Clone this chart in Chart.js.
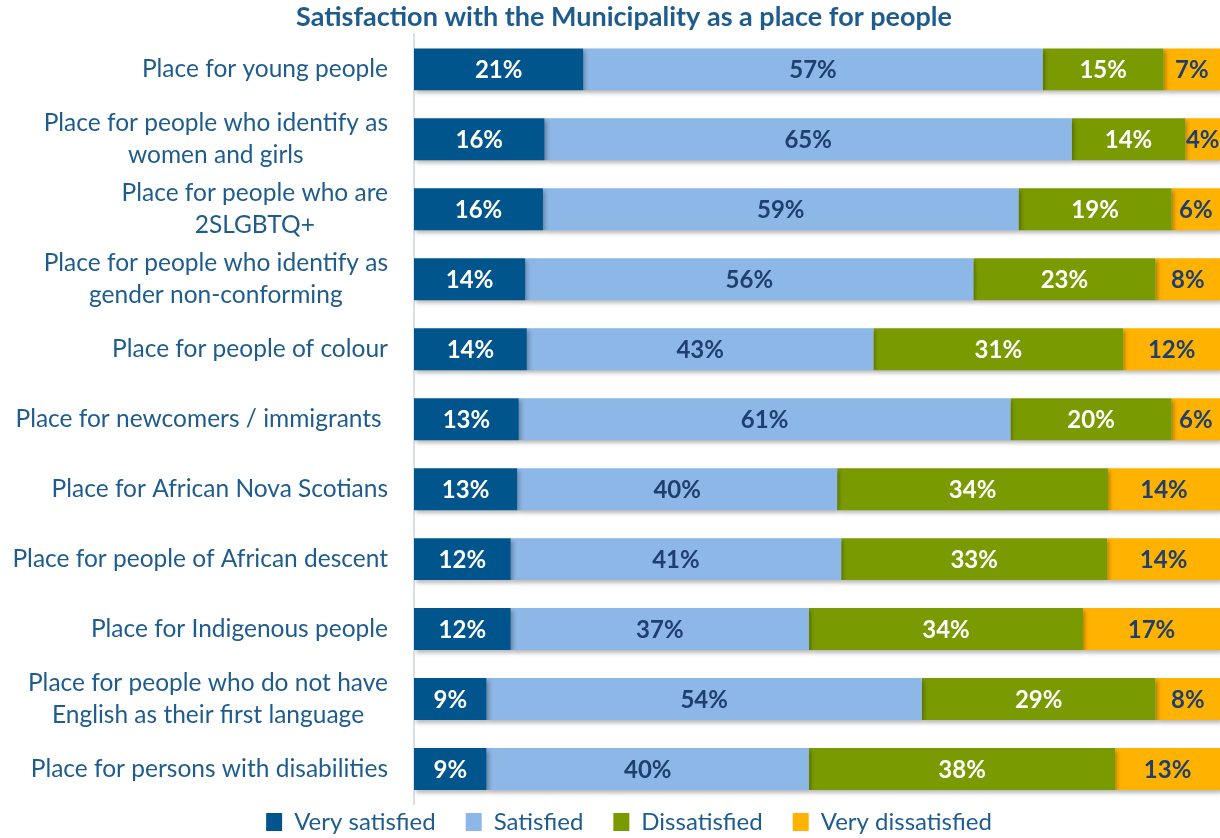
<!DOCTYPE html>
<html>
<head>
<meta charset="utf-8">
<script src="https://cdn.jsdelivr.net/npm/chart.js@4.4.1/dist/chart.umd.min.js"></script>
<style>
  html, body { margin: 0; padding: 0; background: #fff; }
  #wrap { width: 1220px; height: 838px; }
</style>
</head>
<body>
<div id="wrap"><canvas id="satisfactionChart"></canvas></div>
<script>
const categories = [
  ["Place for young people"],
  ["Place for people who identify as", "women and girls"],
  ["Place for people who are", "2SLGBTQ+"],
  ["Place for people who identify as", "gender non-conforming"],
  ["Place for people of colour"],
  ["Place for newcomers / immigrants "],
  ["Place for African Nova Scotians"],
  ["Place for people of African descent"],
  ["Place for Indigenous people"],
  ["Place for people who do not have", "English as their first language"],
  ["Place for persons with disabilities"]
];

const verySatisfied    = [21, 16.2, 16, 13.8, 14, 13, 12.8, 12, 12, 9, 9];
const satisfied        = [57, 65.4, 59, 55.6, 43, 61, 39.7, 41, 37, 54, 40];
const dissatisfied     = [15, 14.1, 19, 22.6, 31, 20, 33.6, 33, 34, 29, 38];
const veryDissatisfied = [7, 4.3, 6, 8.0, 12, 6, 13.9, 14, 17, 8, 13];

const seriesNames = ["Very satisfied", "Satisfied", "Dissatisfied", "Very dissatisfied"];
const seriesColors = ["#00558C", "#8DB7E6", "#7A9A01", "#FFB300"];
const labelColors = ["#ffffff", "#1F3F6E", "#ffffff", "#1F3F6E"];

const textBlue = "#1F5C8E";
const legendPadding = 30;

Chart.defaults.font.family = "Lato, 'Open Sans', sans-serif";

const barShadow = {
  id: "barShadow",
  beforeDatasetDraw(chart) {
    const ctx = chart.ctx;
    ctx.save();
    ctx.shadowColor = "rgba(0, 0, 0, 0.28)";
    ctx.shadowBlur = 4;
    ctx.shadowOffsetX = 2;
    ctx.shadowOffsetY = 3;
  },
  afterDatasetDraw(chart) {
    chart.ctx.restore();
  }
};

const valueLabels = {
  id: "valueLabels",
  afterDatasetsDraw(chart) {
    const ctx = chart.ctx;
    ctx.save();
    ctx.font = "bold 24px Lato, sans-serif";
    ctx.textAlign = "center";
    ctx.textBaseline = "middle";
    chart.data.datasets.forEach((ds, di) => {
      const meta = chart.getDatasetMeta(di);
      ctx.fillStyle = labelColors[di];
      meta.data.forEach((bar, i) => {
        const p = bar.getProps(["x", "y", "base"], true);
        const cx = (p.x + p.base) / 2;
        ctx.fillText(Math.round(ds.data[i]) + "%", cx, p.y + 1);
      });
    });
    ctx.restore();
  }
};

// category labels: block right-aligned, lines centred inside the block
const categoryLabels = {
  id: "categoryLabels",
  afterDraw(chart) {
    const ctx = chart.ctx;
    const yScale = chart.scales.y;
    const rightEdge = yScale.right - 26;
    const lineHeight = 32;
    ctx.save();
    ctx.font = "24.5px Lato, sans-serif";
    ctx.fillStyle = textBlue;
    ctx.textAlign = "center";
    ctx.textBaseline = "middle";
    categories.forEach((lines, i) => {
      const y = yScale.getPixelForValue(i);
      const blockWidth = Math.max(...lines.map((l) => ctx.measureText(l).width));
      const cx = rightEdge - blockWidth / 2;
      const top = y - (lines.length - 1) * lineHeight / 2;
      lines.forEach((line, li) => {
        ctx.fillText(line, cx, top + li * lineHeight);
      });
    });
    ctx.restore();
  }
};

// nudge title and legend after layout
const layoutTweak = {
  id: "layoutTweak",
  afterLayout(chart) {
    if (chart.titleBlock) {
      chart.titleBlock.left += 14;
      chart.titleBlock.right += 14;
    }
    if (chart.legend) {
      chart.legend.top = chart.chartArea.bottom + 6 - legendPadding;
      chart.legend.left += 19;
      chart.legend.right += 19;
    }
  }
};

const values = [verySatisfied, satisfied, dissatisfied, veryDissatisfied];

new Chart(document.getElementById("satisfactionChart"), {
  type: "bar",
  data: {
    labels: categories.map((c) => c.join(" ")),
    datasets: values.map((data, i) => ({
      label: seriesNames[i],
      data,
      backgroundColor: seriesColors[i],
      borderWidth: 0,
      barPercentage: 0.6,
      categoryPercentage: 1
    }))
  },
  options: {
    indexAxis: "y",
    responsive: true,
    maintainAspectRatio: false,
    animation: false,
    layout: { padding: 0 },
    plugins: {
      title: {
        display: true,
        text: "Satisfaction with the Municipality as a place for people",
        color: textBlue,
        font: { size: 27, weight: "bold" },
        padding: { top: 1, bottom: 1 }
      },
      legend: {
        position: "bottom",
        maxHeight: 34,
        labels: {
          color: textBlue,
          font: { size: 24 },
          boxWidth: 16,
          boxHeight: 18,
          padding: legendPadding
        }
      },
      tooltip: { enabled: false }
    },
    scales: {
      x: {
        stacked: true,
        display: false,
        min: 0,
        max: 100
      },
      y: {
        stacked: true,
        grid: { display: false, drawTicks: false },
        border: { display: true, color: "#D9E0EA", width: 2 },
        ticks: { display: false },
        afterFit(scale) {
          scale.width = 414;
        }
      }
    }
  },
  plugins: [barShadow, valueLabels, categoryLabels, layoutTweak]
});
</script>
</body>
</html>
